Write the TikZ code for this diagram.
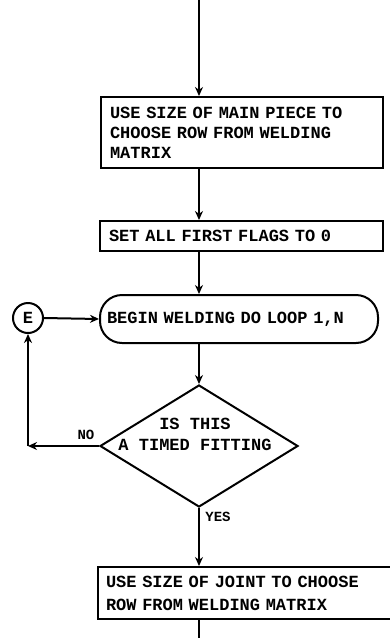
\documentclass[tikz,border=0pt]{standalone}
\usepackage{fontspec}
\newfontfamily\tw{Liberation Mono}
\usetikzlibrary{shapes.geometric,arrows.meta}
\begin{document}
\begin{tikzpicture}[x=1pt,y=-1pt,
  line width=2pt,
  arr/.style={-{Stealth[length=9pt,width=8pt]}},
  txt/.style={font=\tw\bfseries\fontsize{17}{20}\selectfont},
  box/.style={draw,rectangle,inner xsep=9pt,inner ysep=0pt,txt,align=left},
  lbl/.style={font=\tw\bfseries\fontsize{14}{16}\selectfont,inner sep=0pt}
]
\useasboundingbox (0,0) rectangle (390,638);
\coordinate (top) at (199,0);
\node[box,minimum width=282pt,minimum height=71pt,text width=264pt] (b1) at (242,132.5)
  {USE SIZE OF MAIN PIECE TO\\CHOOSE ROW FROM WELDING\\MATRIX};
\node[box,minimum width=283pt,minimum height=30pt,text width=265pt] (b2) at (241.5,236)
  {SET ALL FIRST FLAGS TO 0};
\node[box,rounded corners=22pt,inner xsep=7pt,minimum width=278pt,minimum height=48pt,text width=264pt] (rb) at (239,319)
  {BEGIN WELDING DO LOOP 1,N};
\node[draw,circle,inner sep=0pt,minimum size=30pt,txt] (circ) at (28,318) {E};
\node[draw,diamond,inner sep=0pt,minimum width=198pt,minimum height=122pt] (dia) at (199,446) {};
\node[txt,align=center,inner sep=0pt] (dtxt) at (195,434) {IS THIS\\[1pt]A TIMED FITTING};
\node[lbl] (no) at (86,435) {NO};
\node[lbl] (yes) at (218,517) {YES};
\node[box,inner xsep=8pt,minimum width=302pt,minimum height=52pt,text width=286pt,font=\tw\bfseries\fontsize{17}{23}\selectfont] (b3) at (249,593)
  {USE SIZE OF JOINT TO CHOOSE\\ROW FROM WELDING MATRIX};
\coordinate (corner) at (circ |- dia.west);
\coordinate (bot) at (dia.south |- 0,638);
\draw[arr] (top) -- (top |- b1.north);
\draw[arr] (b1.south -| top) -- (b2.north -| top);
\draw[arr] (b2.south -| dia.north) -- (rb.north -| dia.north);
\draw[arr] (circ.east) -- (rb.west);
\draw[arr] (rb.south -| dia.north) -- (dia.north);
\draw[arr] (dia.west) -- (corner);
\draw[arr] (corner) -- (circ.south);
\draw[arr] (dia.south) -- (b3.north -| dia.south);
\draw (b3.south -| dia.south) -- (bot);
\end{tikzpicture}
\end{document}
